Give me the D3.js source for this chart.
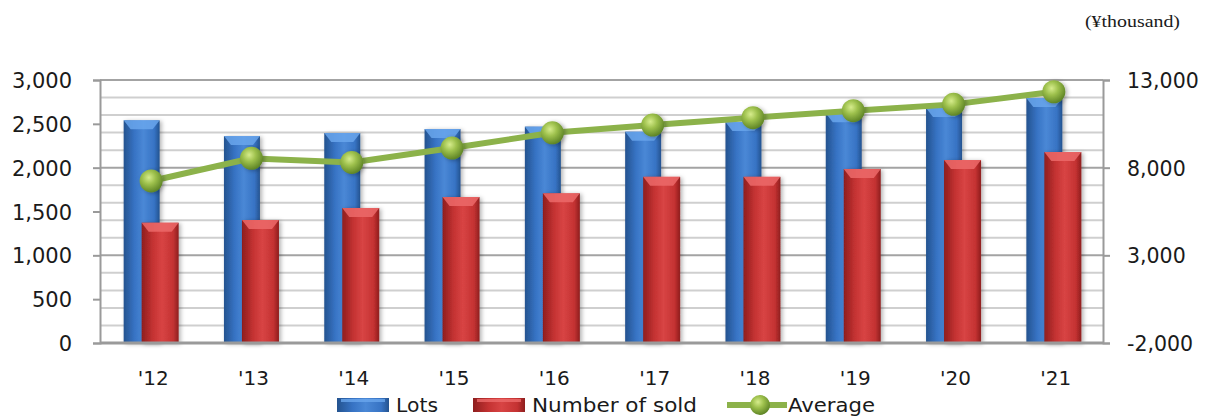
<!DOCTYPE html>
<html>
<head>
<meta charset="utf-8">
<script src="https://cdn.jsdelivr.net/npm/d3@7"></script>
<style>
  body { margin: 0; background: #fff; }
  text { font-family: "DejaVu Sans", sans-serif; fill: #1a1a1a; }
</style>
</head>
<body>
<script>
// data
const years = ["'12", "'13", "'14", "'15", "'16", "'17", "'18", "'19", "'20", "'21"];
const lots = [2540, 2360, 2395, 2440, 2468, 2410, 2520, 2620, 2680, 2795];
const sold = [1372, 1403, 1540, 1665, 1707, 1895, 1895, 1985, 2087, 2178];
const average = [7240, 8530, 8300, 9120, 9990, 10430, 10850, 11250, 11610, 12330];
const leftTicks = [0, 500, 1000, 1500, 2000, 2500, 3000];
const rightTicks = [-2000, 3000, 8000, 13000];

const W = 1209, H = 419;
const plot = { left: 100, right: 1103, top: 80, bottom: 343 };

const svg = d3.select("body").append("svg")
  .attr("width", W)
  .attr("height", H);

const defs = svg.append("defs");

// horizontal gradients give the bars their rounded look
function barGrad(id, edge, mid, light) {
  const g = defs.append("linearGradient").attr("id", id)
    .attr("x1", "0%").attr("x2", "100%").attr("y1", "0%").attr("y2", "0%");
  g.append("stop").attr("offset", "0%").attr("stop-color", edge);
  g.append("stop").attr("offset", "30%").attr("stop-color", mid);
  g.append("stop").attr("offset", "55%").attr("stop-color", light);
  g.append("stop").attr("offset", "85%").attr("stop-color", mid);
  g.append("stop").attr("offset", "100%").attr("stop-color", edge);
}
barGrad("blueGrad", "#24538f", "#3773c4", "#4a88d6");
barGrad("redGrad", "#8e1e1e", "#c43232", "#d84444");

const ball = defs.append("radialGradient").attr("id", "ballGrad")
  .attr("cx", "40%").attr("cy", "35%").attr("r", "65%");
ball.append("stop").attr("offset", "0%").attr("stop-color", "#d6ec8c");
ball.append("stop").attr("offset", "45%").attr("stop-color", "#9dc04c");
ball.append("stop").attr("offset", "100%").attr("stop-color", "#5f8526");

const shadow = defs.append("filter").attr("id", "shadow")
  .attr("x", "-30%").attr("y", "-10%").attr("width", "160%").attr("height", "130%");
shadow.append("feDropShadow").attr("dx", 2).attr("dy", 1)
  .attr("stdDeviation", 2).attr("flood-color", "#000").attr("flood-opacity", 0.3);

// scales
const x = d3.scaleBand().domain(years).range([plot.left, plot.right]);
const yL = d3.scaleLinear().domain([0, 3000]).range([plot.bottom, plot.top]);
const yR = d3.scaleLinear().domain([-2000, 13000]).range([plot.bottom, plot.top]);
const cx = d => x(d) + x.bandwidth() / 2 + 1;
const fmt = v => d3.format(",")(v).replace("−", "-");

// minor grid every 1,000 of the right axis, major at its ticks
svg.append("g").selectAll("line")
  .data(d3.range(-1000, 13000, 1000).filter(v => !rightTicks.includes(v)))
  .join("line")
  .attr("x1", plot.left).attr("x2", plot.right)
  .attr("y1", d => yR(d)).attr("y2", d => yR(d))
  .attr("stroke", "#cfcfcf").attr("stroke-width", 2);

svg.append("g").selectAll("line")
  .data(rightTicks.slice(1))
  .join("line")
  .attr("x1", plot.left).attr("x2", plot.right)
  .attr("y1", d => yR(d)).attr("y2", d => yR(d))
  .attr("stroke", "#a3a3a3").attr("stroke-width", 2);

// left axis
const axL = svg.append("g")
  .attr("transform", `translate(${plot.left},0)`)
  .call(d3.axisLeft(yL).tickValues(leftTicks).tickSize(7).tickPadding(21)
    .tickFormat(fmt));
axL.select(".domain").attr("stroke", "#9a9a9a").attr("stroke-width", 2);
axL.selectAll(".tick line").attr("stroke", "#9a9a9a").attr("stroke-width", 2);
axL.selectAll("text").style("font-size", "21px").attr("fill", "#1a1a1a")
  .attr("dy", "0.36em");

// right axis
const axR = svg.append("g")
  .attr("transform", `translate(${plot.right},0)`)
  .call(d3.axisRight(yR).tickValues(rightTicks).tickSize(7).tickPadding(17)
    .tickFormat(fmt));
axR.select(".domain").attr("stroke", "#9a9a9a").attr("stroke-width", 2);
axR.selectAll(".tick line").attr("stroke", "#9a9a9a").attr("stroke-width", 2);
axR.selectAll("text").style("font-size", "20.5px").attr("fill", "#1a1a1a")
  .attr("dy", "0.36em");

// bars
function drawBars(values, cls, fill, bevel, off, w) {
  const g = svg.append("g").attr("class", cls);
  const bars = g.selectAll("g").data(years).join("g").attr("filter", "url(#shadow)");
  bars.append("rect")
    .attr("x", d => cx(d) + off)
    .attr("y", (d, i) => yL(values[i]))
    .attr("width", w)
    .attr("height", (d, i) => yL(0) - yL(values[i]))
    .attr("fill", fill);
  // bevelled top
  bars.append("polygon")
    .attr("points", (d, i) => {
      const x0 = cx(d) + off, y0 = yL(values[i]);
      return [[x0, y0], [x0 + w, y0], [x0 + w - 7, y0 + 9], [x0 + 7, y0 + 9]]
        .map(p => p.join(",")).join(" ");
    })
    .attr("fill", bevel).attr("opacity", 0.85);
}
drawBars(lots, "lots", "url(#blueGrad)", "#6aa6ec", -27.5, 36);
drawBars(sold, "sold", "url(#redGrad)", "#ec6a6a", -9.5, 37);

// bottom axis line on top of bars
svg.append("line")
  .attr("x1", plot.left).attr("x2", plot.right)
  .attr("y1", plot.bottom).attr("y2", plot.bottom)
  .attr("stroke", "#9a9a9a").attr("stroke-width", 3);

// x labels
svg.append("g").selectAll("text")
  .data(years).join("text")
  .attr("x", d => cx(d) + 2)
  .attr("y", 385)
  .attr("text-anchor", "middle")
  .style("font-size", "20px")
  .text(d => d);

// average line
const line = d3.line().x(d => cx(d[0])).y(d => yR(d[1]));
svg.append("path")
  .datum(years.map((d, i) => [d, average[i]]))
  .attr("d", line)
  .attr("fill", "none")
  .attr("stroke", "#8cb24a")
  .attr("stroke-width", 6);

svg.append("g").selectAll("circle")
  .data(years).join("circle")
  .attr("cx", d => cx(d))
  .attr("cy", (d, i) => yR(average[i]))
  .attr("r", 11.5)
  .attr("fill", "url(#ballGrad)")
  .attr("filter", "url(#shadow)");

// unit label
svg.append("text")
  .attr("x", 1085).attr("y", 27)
  .attr("textLength", 95)
  .attr("lengthAdjust", "spacingAndGlyphs")
  .style("font-family", "'Liberation Serif', serif")
  .style("font-size", "17px")
  .text("(¥thousand)");

// legend
const legend = svg.append("g").attr("class", "legend");
const items = [
  { key: "Lots", x: 337, len: 42, type: "bar", fill: "url(#blueGrad)", bevel: "#6aa6ec" },
  { key: "Number of sold", x: 473, len: 165, type: "bar", fill: "url(#redGrad)", bevel: "#ec6a6a" },
  { key: "Average", x: 727, len: 87, type: "line" }
];
items.forEach(it => {
  let tx;
  if (it.type === "bar") {
    legend.append("rect")
      .attr("x", it.x).attr("y", 398).attr("width", 52).attr("height", 14)
      .attr("fill", it.fill);
    legend.append("rect")
      .attr("x", it.x + 4).attr("y", 399).attr("width", 44).attr("height", 3)
      .attr("fill", it.bevel).attr("opacity", 0.8);
    tx = it.x + 59;
  } else {
    legend.append("line")
      .attr("x1", it.x).attr("x2", it.x + 60)
      .attr("y1", 405).attr("y2", 405)
      .attr("stroke", "#8cb24a").attr("stroke-width", 6);
    legend.append("circle")
      .attr("cx", it.x + 33).attr("cy", 405).attr("r", 10)
      .attr("fill", "url(#ballGrad)");
    tx = it.x + 61;
  }
  legend.append("text").attr("x", tx).attr("y", 412)
    .attr("textLength", it.len)
    .attr("lengthAdjust", "spacingAndGlyphs")
    .style("font-size", "20px").text(it.key);
});
</script>
</body>
</html>
